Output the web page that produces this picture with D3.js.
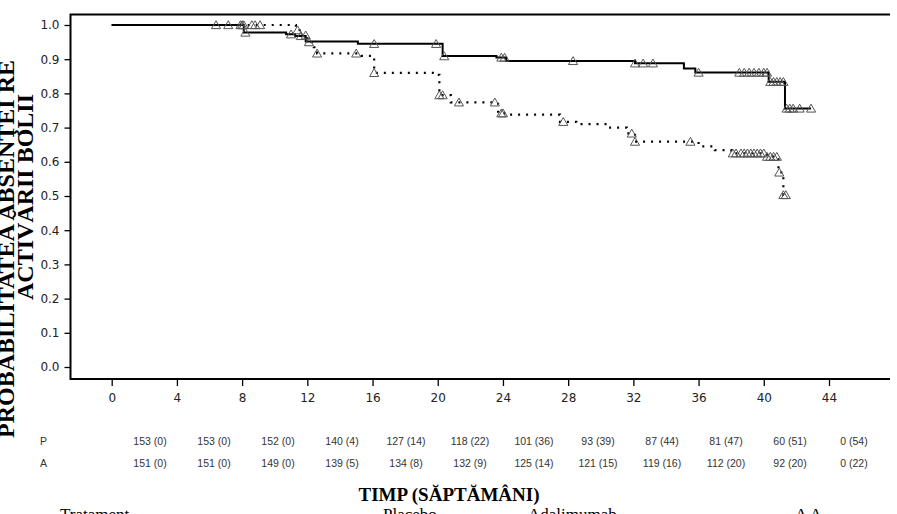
<!DOCTYPE html>
<html><head><meta charset="utf-8">
<script src="https://cdn.jsdelivr.net/npm/d3@7"></script>
<style>body{margin:0;background:#fff}svg{display:block}</style>
</head><body>
<svg id="c" width="897" height="514"></svg>
<script>
// ---- data ----
const xTicks = [0,4,8,12,16,20,24,28,32,36,40,44];
const yTicks = [0,0.1,0.2,0.3,0.4,0.5,0.6,0.7,0.8,0.9,1.0];
// Adalimumab (solid) Kaplan-Meier steps
const adaTimes = [0, 8.1, 10.7, 11.25, 11.9, 15.1, 20.3, 23.6, 24.2, 32.1, 35.1, 35.8, 40.3, 41.3, 42.9];
const adaSurv  = [1.0, 0.978, 0.973, 0.968, 0.952, 0.945, 0.909, 0.905, 0.895, 0.888, 0.873, 0.861, 0.834, 0.756, 0.756];
const adaCens  = [8.2, 11.0, 11.6, 16.1, 19.9, 20.4, 23.9, 24.1, 28.3, 32.1, 32.6, 33.2, 36.0, 38.5, 38.8, 39.1, 39.4, 39.7, 40.0, 40.2, 40.4, 40.6, 40.8, 41.0, 41.2, 41.4, 41.6, 41.8, 42.2, 42.9];
// Placebo (dotted) Kaplan-Meier steps
const plaTimes = [0, 11.3, 11.6, 12.0, 12.4, 12.6, 15.3, 16.1, 19.7, 20.1, 20.8, 23.7, 24.3, 27.5, 28.5, 30.5, 31.6, 32.1, 36.0, 37.0, 38.0, 40.2, 40.9, 41.2, 41.4];
const plaSurv  = [1.0, 0.985, 0.97, 0.95, 0.935, 0.917, 0.91, 0.86, 0.854, 0.795, 0.774, 0.742, 0.738, 0.717, 0.71, 0.70, 0.683, 0.659, 0.645, 0.634, 0.625, 0.615, 0.569, 0.503, 0.503];
const plaCens  = [6.4, 7.15, 7.9, 8.0, 8.1, 8.6, 8.8, 9.1, 11.4, 11.9, 12.1, 12.6, 15.0, 16.1, 20.1, 20.3, 21.3, 23.5, 23.9, 24.0, 27.7, 31.9, 32.1, 35.5, 38.1, 38.3, 38.6, 38.8, 39.0, 39.2, 39.4, 39.6, 39.8, 40.0, 40.2, 40.4, 40.6, 40.8, 40.95, 41.2, 41.35];
// numbers at risk (events)
const riskP = ["153 (0)","153 (0)","152 (0)","140 (4)","127 (14)","118 (22)","101 (36)","93 (39)","87 (44)","81 (47)","60 (51)","0 (54)"];
const riskA = ["151 (0)","151 (0)","149 (0)","139 (5)","134 (8)","132 (9)","125 (14)","121 (15)","119 (16)","112 (20)","92 (20)","0 (22)"];
const groupLabels = ["P","A"];

// ---- layout ----
const svg = d3.select("#c");
const L = 70.5, R = 890, T = 14, B = 379;
const x = d3.scaleLinear().domain([0,44]).range([111.7, 829]);
const y = d3.scaleLinear().domain([0,1]).range([367, 25]);
const xt = d3.scaleLinear().domain([0,44]).range([150, 854]); // at-risk table columns

// frame: left, top, bottom
svg.append("path").attr("d", `M${R},${T+0.5}H${L}V${B}H${R}`)
  .attr("fill","none").attr("stroke","#000").attr("stroke-width",2);

// axes
const yAxis = d3.axisLeft(y).tickValues(yTicks).tickFormat(d3.format(".1f")).tickSize(6).tickPadding(5);
const gy = svg.append("g").attr("transform",`translate(${L},0)`).call(yAxis);
gy.select(".domain").remove();
gy.selectAll("line").attr("stroke","#000").attr("stroke-width",1.3);
gy.selectAll("text").attr("font-family","DejaVu Sans").attr("font-size",12).attr("fill","#222");

const xAxis = d3.axisBottom(x).tickValues(xTicks).tickSize(7).tickPadding(7);
const gx = svg.append("g").attr("transform",`translate(0,${B})`).call(xAxis);
gx.select(".domain").remove();
gx.selectAll("line").attr("stroke","#000").attr("stroke-width",1.3);
gx.selectAll("text").attr("font-family","DejaVu Sans").attr("font-size",12).attr("fill","#222");

// step helpers
function stepPoints(ts, ss){ return ts.map((t,i)=>[t, ss[i]]); }
function survAt(ts, ss, t){ let v = ss[0]; for(let i=0;i<ts.length;i++){ if(ts[i] <= t) v = ss[i]; } return v; }
const line = d3.line().x(d=>x(d[0])).y(d=>y(d[1])).curve(d3.curveStepAfter);

// Placebo dotted
svg.append("path").datum(stepPoints(plaTimes, plaSurv)).attr("d", line)
  .attr("fill","none").attr("stroke","#000").attr("stroke-width",2.2)
  .attr("stroke-dasharray","2,6");
// Adalimumab solid
svg.append("path").datum(stepPoints(adaTimes, adaSurv)).attr("d", line)
  .attr("fill","none").attr("stroke","#000").attr("stroke-width",2);

// censor triangles
const tri = d3.symbol().type(d3.symbolTriangle).size(36);
function drawCens(list, ts, ss){
  svg.append("g").selectAll("path").data(list).join("path")
    .attr("d", tri)
    .attr("transform", d=>`translate(${x(d)},${y(survAt(ts,ss,d))+1})`)
    .attr("fill","none").attr("stroke","#555").attr("stroke-width",1);
}
drawCens(plaCens, plaTimes, plaSurv);
drawCens(adaCens, adaTimes, adaSurv);

// y label
const yl = svg.append("g").attr("font-family","Liberation Serif").attr("font-weight","bold").attr("font-size",24).attr("fill","#000");
yl.append("text").attr("transform","rotate(-90)").attr("x",-60).attr("y",14)
  .attr("text-anchor","end").text("PROBABILITATEA ABSENŢEI RE");
yl.append("text").attr("transform","rotate(-90)").attr("x",-197).attr("y",33)
  .attr("text-anchor","middle").text("ACTIVĂRII BOLII");

// at-risk table
const riskRows = [riskP, riskA];
riskRows.forEach((row,ri)=>{
  const yy = 445 + ri*22;
  svg.append("text").attr("x",40).attr("y",yy).attr("font-family","Liberation Sans").attr("font-size",10.5).attr("fill","#333").text(groupLabels[ri]);
  svg.append("g").selectAll("text").data(row).join("text")
    .attr("x",(d,i)=>xt(xTicks[i])).attr("y",yy).attr("text-anchor","middle")
    .attr("font-family","Liberation Sans").attr("font-size",10.5).attr("fill","#333").text(d=>d);
});

// x title
svg.append("text").attr("x",449).attr("y",501).attr("text-anchor","middle")
  .attr("font-family","Liberation Serif").attr("font-weight","bold").attr("font-size",19).text("TIMP (SĂPTĂMÂNI)");

// legend (partially clipped at bottom)
const lg = svg.append("g").attr("font-family","Liberation Serif").attr("font-size",17);
lg.append("text").attr("x",60).attr("y",520).text("Tratament");
lg.append("text").attr("x",383).attr("y",520).text("Placebo");
lg.append("text").attr("x",528).attr("y",520).text("Adalimumab");
lg.append("text").attr("x",795).attr("y",520).text("A A");
</script>
</body></html>
